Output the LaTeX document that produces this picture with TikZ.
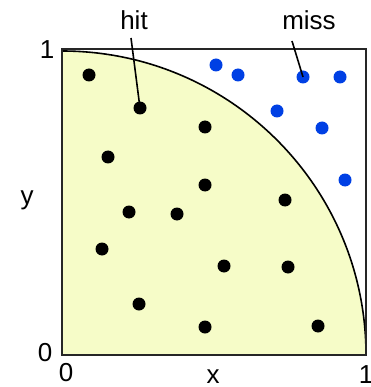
\documentclass[tikz,border=0pt]{standalone}
\usepackage{fontspec}
\setmainfont{Liberation Sans}
\definecolor{hitfill}{RGB}{246,252,200}
\definecolor{missblue}{RGB}{0,64,228}
\begin{document}
\begin{tikzpicture}[x=1pt,y=-1pt,
  lbl/.style={font=\fontsize{26}{30}\selectfont,inner sep=0pt},
  hitdot/.style={circle,fill=black,inner sep=0pt,minimum size=13pt},
  missdot/.style={circle,fill=missblue,inner sep=0pt,minimum size=13pt},
  leader/.style={line width=1.6pt}]
\useasboundingbox (0,0) rectangle (370,387);
\fill[hitfill] (62,355) -- (62,51) arc[start angle=-90,end angle=0,radius=304] -- cycle;
\draw[line width=1.6pt] (62,51) arc[start angle=-90,end angle=0,radius=304];
\draw[line width=2.2pt,draw=black!85] (62,49) rectangle (366,355);
% hits
\foreach \n/\x/\y in {h1/89/75,h2/140/108,h3/205/127,h4/108/157,h5/205/185,h6/285/200,h7/129/212,h8/177/214,h9/102/249,h10/224/266,h11/288/267,h12/139/304,h13/205/327,h14/318/326}
  \node[hitdot] (\n) at (\x,\y) {};
% misses
\foreach \n/\x/\y in {m1/216/65,m2/238/75,m3/303/77,m4/340/77,m5/277/111,m6/322/128,m7/345/180}
  \node[missdot] (\n) at (\x,\y) {};
\node[lbl] (hit) at (134,20) {hit};
\node[lbl] (miss) at (309,20) {miss};
\coordinate (hitend) at (131,38);
\coordinate (missend) at (292,41);
\draw[leader] (hitend) -- (h2.center);
\draw[leader] (missend) -- (m3.center);
\node[lbl] (y1) at (47,50) {1};
\node[lbl] (y0) at (45,353) {0};
\node[lbl] (x0) at (66,373) {0};
\node[lbl] (x1) at (366,375) {1};
\node[lbl] (xl) at (213,377) {x};
\node[lbl] (yl) at (27,200) {y};
\end{tikzpicture}
\end{document}
